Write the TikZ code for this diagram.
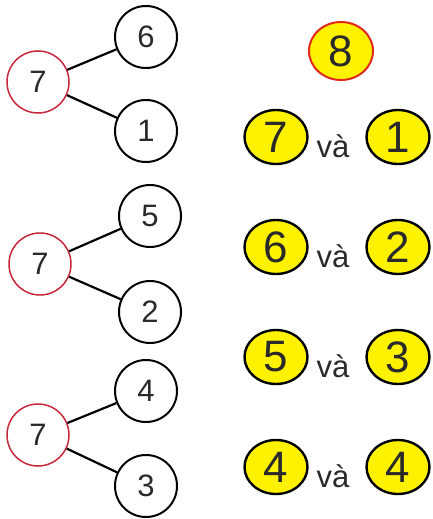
\documentclass[tikz,border=0pt]{standalone}
\usepackage{fontspec}
\setmainfont{Liberation Sans}
\usetikzlibrary{shapes.geometric}
\definecolor{cred}{HTML}{C8283C}
\definecolor{ored}{HTML}{E02A1E}
\definecolor{yel}{HTML}{FFF200}
\definecolor{txt}{HTML}{2A2A2A}
\tikzset{
  x=1pt, y=-1pt,
  parent/.style={circle, draw=cred, line width=1.5pt, minimum size=62pt, inner sep=0pt, font=\fontsize{31}{31}\selectfont, text=txt},
  child/.style={circle, draw=black, line width=2pt, minimum size=62pt, inner sep=0pt, font=\fontsize{31}{31}\selectfont, text=txt},
  ybub/.style={ellipse, fill=yel, draw=black, line width=2.4pt, minimum width=63pt, minimum height=54pt, inner sep=0pt, font=\fontsize{44}{44}\selectfont, text=txt},
  total/.style={ellipse, fill=yel, draw=ored, line width=2pt, minimum width=64pt, minimum height=58pt, inner sep=0pt, font=\fontsize{44}{44}\selectfont, text=txt},
  va/.style={font=\fontsize{31}{31}\selectfont, text=txt, anchor=base, inner sep=0pt},
  link/.style={draw=black, line width=2.2pt}
}
\begin{document}
\begin{tikzpicture}
\useasboundingbox (0,0) rectangle (432,519);
% tree 1
\node[parent] (p1) at (38,82) {7};
\node[child] (a1) at (146,37) {6};
\node[child] (b1) at (146,131) {1};
\draw[link] (p1) -- (a1);
\draw[link] (p1) -- (b1);
% tree 2
\node[parent] (p2) at (40,264) {7};
\node[child] (a2) at (150,216) {5};
\node[child] (b2) at (150,312) {2};
\draw[link] (p2) -- (a2);
\draw[link] (p2) -- (b2);
% tree 3
\node[parent] (p3) at (38,435) {7};
\node[child] (a3) at (146,391) {4};
\node[child] (b3) at (146,486) {3};
\draw[link] (p3) -- (a3);
\draw[link] (p3) -- (b3);
% right side
\node[total] (t) at (341,51) {8};
\node[ybub] (l1) at (276,137) {7};
\node[va] (v1) at (333,157) {và};
\node[ybub] (r1) at (398,137) {1};
\node[ybub] (l2) at (276,247) {6};
\node[va] (v2) at (333,267) {và};
\node[ybub] (r2) at (398,247) {2};
\node[ybub] (l3) at (276,357) {5};
\node[va] (v3) at (333,377) {và};
\node[ybub] (r3) at (398,357) {3};
\node[ybub] (l4) at (276,467) {4};
\node[va] (v4) at (333,487) {và};
\node[ybub] (r4) at (398,467) {4};
\end{tikzpicture}
\end{document}
